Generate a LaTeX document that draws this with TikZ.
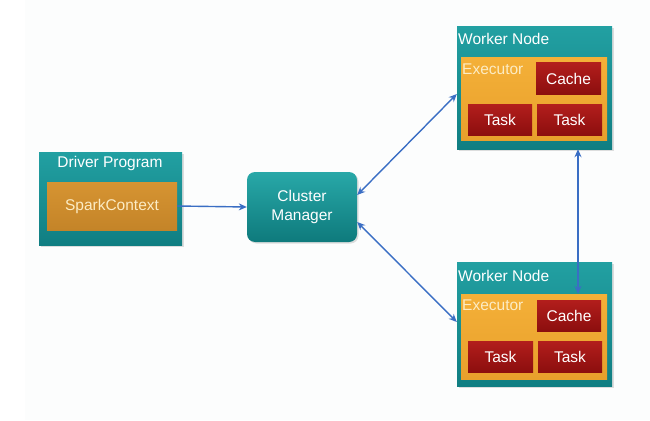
\documentclass[tikz,border=0pt]{standalone}
\usepackage{fontspec}
\setmainfont{Liberation Sans}
\usetikzlibrary{shadows,arrows.meta}
\definecolor{tealA}{RGB}{34,160,162}
\definecolor{tealB}{RGB}{16,126,130}
\definecolor{tealC}{RGB}{40,168,168}
\definecolor{tealD}{RGB}{14,122,124}
\definecolor{orngA}{RGB}{244,176,56}
\definecolor{orngB}{RGB}{232,160,44}
\definecolor{spkA}{RGB}{214,148,50}
\definecolor{spkB}{RGB}{196,132,40}
\definecolor{redA}{RGB}{178,30,28}
\definecolor{redB}{RGB}{140,14,14}
\definecolor{arrowblue}{RGB}{58,110,196}
\definecolor{cream}{RGB}{252,236,196}
\definecolor{bgwhite}{RGB}{252,253,253}
\begin{document}
\begin{tikzpicture}[x=1pt,y=-1pt,
  every node/.style={font=\fontsize{15.5}{18}\selectfont},
  outerbox/.style={rectangle, inner sep=0pt, top color=tealA, bottom color=tealB,
     drop shadow={opacity=0.25, shadow xshift=1.5pt, shadow yshift=-1.5pt}},
  execbox/.style={rectangle, inner sep=0pt, top color=orngA, bottom color=orngB},
  spkbox/.style={rectangle, inner sep=0pt, top color=spkA, bottom color=spkB, text=cream},
  redbox/.style={rectangle, inner sep=0pt, top color=redA, bottom color=redB, text=white,
     minimum width=64pt, minimum height=31pt},
  cmbox/.style={rectangle, rounded corners=8pt, inner sep=0pt, top color=tealC, bottom color=tealD,
     text=white, align=center, minimum width=110pt, minimum height=70pt,
     drop shadow={opacity=0.25, shadow xshift=1.5pt, shadow yshift=-1.5pt}},
  titletext/.style={inner sep=0pt, text=white, anchor=west},
  exectext/.style={inner sep=0pt, text=cream, anchor=west},
  link/.style={draw=arrowblue, line width=1.4pt, {Stealth[length=8pt,width=7pt]}-{Stealth[length=8pt,width=7pt]}},
  onelink/.style={draw=arrowblue, line width=1.4pt, -{Stealth[length=8pt,width=7pt]}}
]
\useasboundingbox[fill=white] (0,0) rectangle (650,420);
\fill[bgwhite] (25,0) rectangle (650,420);

% Driver program
\node[outerbox, minimum width=143pt, minimum height=93pt] (drv) at (110.5,198.5) {};
\node[inner sep=0pt, text=white] (drvt) at (110,163) {Driver Program};
\node[spkbox, minimum width=130pt, minimum height=48pt] (sc) at (112,206) {SparkContext};

% Cluster manager
\node[cmbox] (cm) at (302,207) {Cluster\\[1pt]Manager};

% Worker node top
\node[outerbox, minimum width=155pt, minimum height=122pt] (w1) at (534.5,88) {};
\node[titletext] (w1t) at (458,39) {Worker Node};
\node[execbox, minimum width=146pt, minimum height=82pt] (e1) at (534,99) {};
\node[exectext] (e1t) at (462,69) {Executor};
\node[redbox, minimum width=65pt] (c1) at (568.5,78.5) {Cache};
\node[redbox] (t1a) at (500,120) {Task};
\node[redbox, minimum width=65pt] (t1b) at (569.5,120) {Task};

% Worker node bottom
\node[outerbox, minimum width=155pt, minimum height=124pt] (w2) at (534.5,324) {};
\node[titletext] (w2t) at (458,276) {Worker Node};
\node[execbox, minimum width=146pt, minimum height=85pt] (e2) at (534,336.5) {};
\node[exectext] (e2t) at (462,305) {Executor};
\node[redbox, minimum width=64pt] (c2) at (569,315.5) {Cache};
\node[redbox, minimum width=65pt] (t2a) at (500.5,356.5) {Task};
\node[redbox, minimum width=64pt] (t2b) at (570,356.5) {Task};

% Connectors
\draw[onelink] (sc.east) -- (cm.west);
\draw[link] ([yshift=12pt]cm.east) -- ([yshift=-6pt]w1.west);
\draw[link] ([yshift=-15pt]cm.east) -- ([yshift=2pt]w2.west);
\draw[link] ([xshift=43.5pt]w1.south) -- ([xshift=44pt]e2.north);
\end{tikzpicture}
\end{document}
